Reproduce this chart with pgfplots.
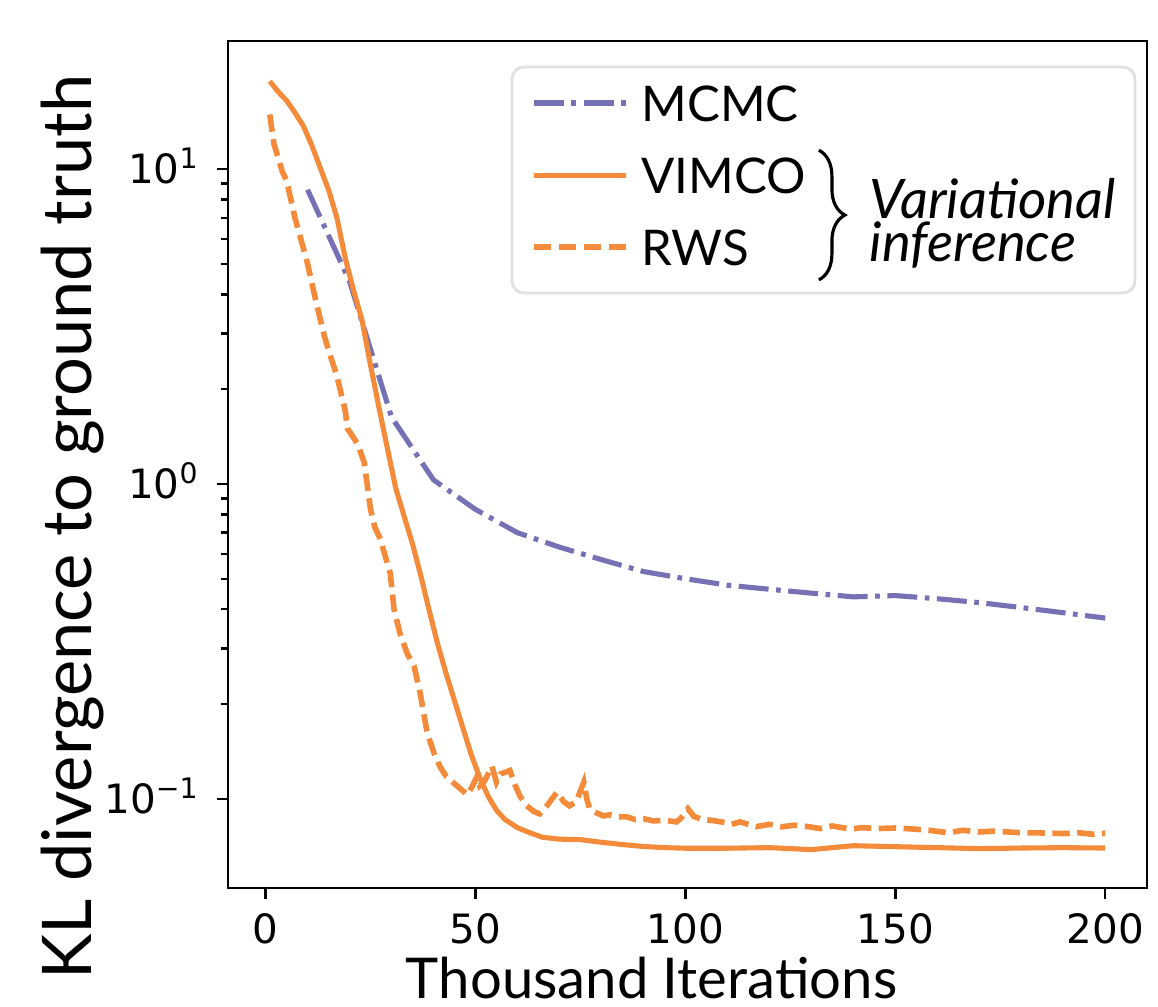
\documentclass[border=0pt]{standalone}
\usepackage{pgfplots}
\pgfplotsset{compat=1.18}
\usepackage{fontspec}
\setmainfont{Lato}
\newfontfamily\dejavu{DejaVu Sans}
\usetikzlibrary{decorations.pathreplacing}

\definecolor{mcmc}{RGB}{118,112,180}
\definecolor{vi}{RGB}{243,139,59}

\begin{document}
\begin{tikzpicture}
\begin{axis}[
    scale only axis,
    width=91.9mm, height=84.7mm,
    ymode=log,
    xmin=-8.95, xmax=209.95,
    ymin=0.0521, ymax=25.5,
    xtick={0,50,100,150,200},
    xticklabels={0,50,100,150,200},
    ytick={0.1,1,10},
    yticklabels={10\textsuperscript{−1},10\textsuperscript{0},10\textsuperscript{1}},
    tick pos=left, tick align=outside,
    major tick length=1.1mm, minor tick length=0.7mm,
    axis line style={line width=0.8pt},
    every tick/.style={black, line width=0.7pt},
    ticklabel style={font=\dejavu\fontsize{11.5}{13.8}\selectfont, inner sep=0pt},
    xticklabel style={anchor=north, yshift=-1.4mm},
    yticklabel style={anchor=base east, xshift=-1.7mm, yshift=-4.2pt},
    xlabel={Thousand Iterations},
    ylabel={KL divergence to ground truth},
    xlabel style={at={(axis description cs:0.461,-0.131)}, anchor=base,
        font=\fontsize{16}{19}\selectfont, inner sep=0pt},
    ylabel style={at={(axis description cs:-0.148,0.426)}, anchor=base,
        font=\fontsize{19.5}{23}\selectfont, inner sep=0pt},
    legend cell align=left,
    legend image code/.code={
        \draw[#1] (0mm,0mm) -- (9.2mm,0mm);
        \path (10.5mm,0mm);
    },
    legend style={draw=none, fill=none, inner sep=0pt, outer sep=0pt,
        at={(0.3297,0.948)}, anchor=north west, row sep=3.6mm,
        font=\fontsize{14}{17}\selectfont,
        nodes={inner sep=0pt, text height=3.6mm, text depth=0pt}},
]

% legend frame
\draw[rounded corners=1.2mm, draw=black!12, line width=0.8pt, fill=white]
    (rel axis cs:0.309,0.7025) rectangle (rel axis cs:0.987,0.9693);

\addplot[mcmc, line width=1.45pt, dash pattern=on 3mm off 0.75mm on 0.47mm off 0.75mm] coordinates {
    (10,8.6) (20,4.4) (30,1.63) (40,1.03) (50,0.83) (60,0.70) (70,0.63)
    (80,0.575) (90,0.527) (100,0.50) (110,0.477) (120,0.463) (130,0.45)
    (140,0.438) (150,0.442) (160,0.432) (170,0.42) (180,0.405) (190,0.39)
    (200,0.375)
};
\addlegendentry{MCMC}

\addplot[vi, line width=1.45pt, line join=round] coordinates {
    (1,19.0) (3,17.6) (5,16.5) (7,15.1) (9,13.7) (11,11.9) (13,10.1)
    (15,8.6) (17,7.0) (19,5.2) (21,4.1) (23,3.3) (25,2.38) (27,1.75)
    (29,1.30) (31,0.97) (33,0.79) (35,0.645) (37,0.51) (39,0.395)
    (41,0.31) (43,0.25) (45,0.205) (47,0.168) (49,0.138) (51,0.117)
    (53,0.102) (55,0.092) (57,0.086) (60,0.081) (63,0.078) (66,0.0755)
    (70,0.0745) (75,0.0742) (80,0.0728) (85,0.0716) (90,0.0706)
    (95,0.0700) (100,0.0697) (110,0.0697) (120,0.0700) (130,0.0690)
    (140,0.0710) (150,0.0705) (160,0.0700) (170,0.0695) (180,0.0698)
    (190,0.0700) (200,0.0698)
};
\addlegendentry{VIMCO}

\addplot[vi, line width=1.6pt, dash pattern=on 1.74mm off 0.75mm] coordinates {
    (1,14.9) (2,12.0) (4,9.8) (5,9.2) (7,7.0) (9,5.6) (10,5.0) (12,3.8)
    (14,2.95) (15,2.66) (17,2.2) (19,1.7) (19.5,1.5) (21,1.4) (22,1.33)
    (23.5,1.17) (25,0.83) (26,0.73) (27.3,0.67) (29.7,0.52) (30.6,0.40)
    (32,0.336) (33.7,0.29) (35.4,0.263) (36.8,0.217) (38.5,0.162)
    (40.1,0.14) (41.6,0.126) (43,0.118) (44.9,0.112) (47,0.106) (48,0.103)
    (49,0.108) (50.4,0.118) (51,0.110) (52,0.113) (53,0.120) (53.9,0.127)
    (55,0.113) (56,0.120) (58.2,0.123) (59.5,0.110) (60.6,0.102)
    (62.2,0.095) (64,0.091) (65.3,0.0896) (67,0.095) (69.4,0.105)
    (71,0.098) (72.4,0.095) (74,0.098) (75.8,0.113) (76.5,0.100)
    (77.2,0.093) (79,0.090) (80.5,0.0883) (82,0.089) (84,0.0877)
    (86,0.0877) (88,0.086) (90,0.0865) (92.4,0.0851) (95,0.0855)
    (97.9,0.0845) (99,0.087) (100.6,0.093) (102,0.088) (104,0.086)
    (106,0.0855) (108.6,0.0845) (111,0.083) (113,0.0845) (116.9,0.0816)
    (120,0.083) (123,0.0815) (126,0.0825) (129.3,0.0816) (132,0.0805)
    (135,0.082) (139.3,0.0802) (142,0.081) (146,0.0805) (150,0.0808)
    (154.3,0.0802) (158,0.0795) (162.7,0.078) (166,0.0795) (170,0.0785)
    (173.5,0.079) (177,0.0785) (180,0.078) (183.5,0.078) (187,0.0778)
    (190,0.0776) (194,0.078) (197,0.0772) (200,0.0778)
};
\addlegendentry{RWS}

% brace and group label
\draw[line width=0.9pt, decorate, decoration={brace, amplitude=2.6mm}]
    (rel axis cs:0.643,0.871) -- (rel axis cs:0.643,0.718);
\node[anchor=north west, inner sep=0pt, align=left,
      font=\itshape\fontsize{15.5}{12.4}\selectfont]
    at (rel axis cs:0.6975,0.839) {Variational\\inference};
\end{axis}
\pgfresetboundingbox
\path[use as bounding box] ([shift={(-22.8mm,-11.8mm)}]current axis.south west)
    rectangle ([shift={(1.1mm,4.1mm)}]current axis.north east);
\end{tikzpicture}
\end{document}
